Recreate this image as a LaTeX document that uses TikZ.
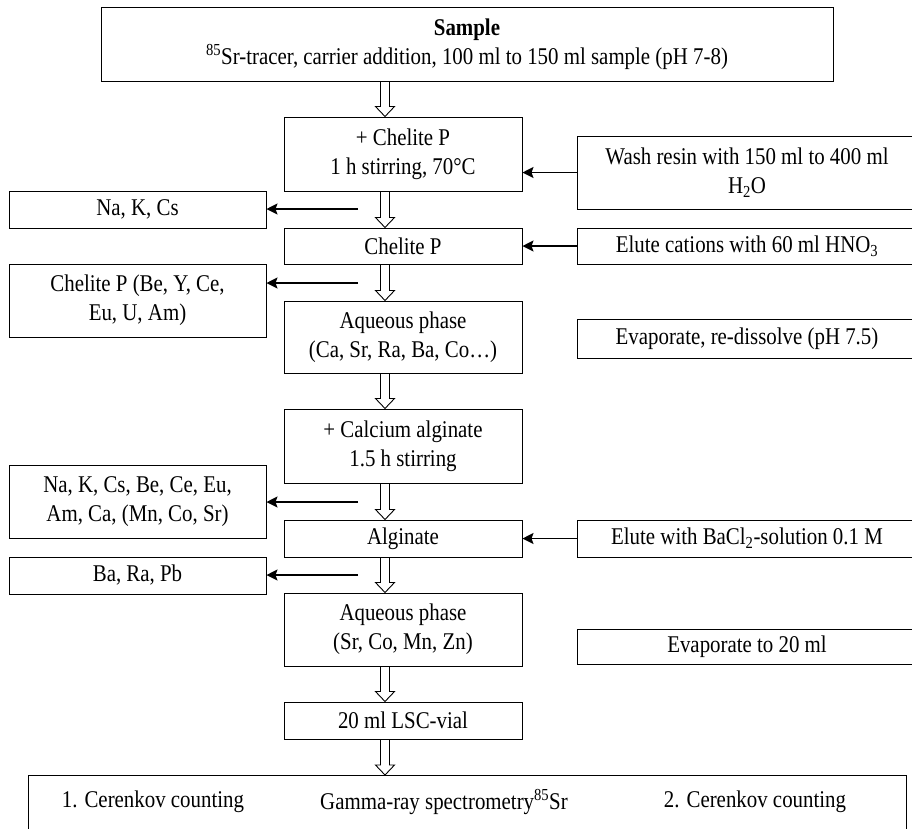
\documentclass[tikz,border=0pt]{standalone}
\usepackage{fontspec}
\setmainfont{Liberation Serif}[FakeStretch=0.87]
\usetikzlibrary{arrows.meta,calc}
\newcommand{\hollowarr}[2]{%
  \path (#1.south -| axis) coordinate (ha) (#2.north -| axis) coordinate (hb);
  \draw[harrow] ($(ha)+(-4.5,0)$) -- ($(hb)+(-4.5,-10)$) -- ($(hb)+(-9.5,-10)$) -- (hb)
     -- ($(hb)+(9.5,-10)$) -- ($(hb)+(4.5,-10)$) -- ($(ha)+(4.5,0)$);}
\begin{document}
\begin{tikzpicture}[x=1pt,y=-1pt,
  box/.style={draw, line width=1pt, inner sep=0pt, align=center, font=\fontsize{24}{29}\selectfont},
  lbl/.style={inner sep=0pt, font=\fontsize{24}{29}\selectfont},
  harrow/.style={draw, line width=0.9pt, line join=miter},
  karrow/.style={line width=1.2pt, -{Stealth[length=11pt,width=11pt,inset=2pt]}}]
\useasboundingbox (0,0) rectangle (912,828);
\fill[white] (0,0) rectangle (912,828);
\coordinate (axis) at (385,0);

% main column
\node[box, minimum width=732, minimum height=74] (sample) at (467,44)
  {\textbf{Sample}\\\textsuperscript{85}Sr-tracer, carrier addition, 100 ml to 150 ml sample (pH 7-8)};
\node[box, minimum width=238, minimum height=74] (b1) at (403,154) {+ Chelite P\\1 h stirring, 70°C};
\node[box, minimum width=238, minimum height=36] (b2) at (403,246) {Chelite P};
\node[box, minimum width=238, minimum height=72] (b3) at (403,337) {Aqueous phase\\(Ca, Sr, Ra, Ba, Co…)};
\node[box, minimum width=238, minimum height=74] (b4) at (403,446) {+ Calcium alginate\\1.5 h stirring};
\node[box, minimum width=238, minimum height=37] (b5) at (403,538.5) {Alginate};
\node[box, minimum width=238, minimum height=73] (b6) at (403,629.5) {Aqueous phase\\(Sr, Co, Mn, Zn)};
\node[box, minimum width=238, minimum height=37] (lsc) at (403,720.5) {20 ml LSC-vial};
\node[box, minimum width=878, minimum height=80, anchor=north] (bottom) at (467,775) {};
\node[lbl] (t1) at (153,802) {1. Cerenkov counting};
\node[lbl] (t2) at (444,802) {Gamma-ray spectrometry\textsuperscript{85}Sr};
\node[lbl] (t3) at (755,802) {2. Cerenkov counting};

% right column
\node[box, minimum width=340, minimum height=73] (r1) at (747,172.5) {Wash resin with 150 ml to 400 ml\\H\textsubscript{2}O};
\node[box, minimum width=340, minimum height=36] (r2) at (747,246) {Elute cations with 60 ml HNO\textsubscript{3}};
\node[box, minimum width=340, minimum height=39] (e1) at (747,338.5) {Evaporate, re-dissolve (pH 7.5)};
\node[box, minimum width=340, minimum height=37] (r5) at (747,538.5) {Elute with BaCl\textsubscript{2}-solution 0.1 M};
\node[box, minimum width=340, minimum height=35] (e2) at (747,646.5) {Evaporate to 20 ml};

% left column
\node[box, minimum width=257, minimum height=37] (l1) at (137.5,209.5) {Na, K, Cs};
\node[box, minimum width=257, minimum height=73] (l2) at (137.5,300.5) {Chelite P (Be, Y, Ce,\\Eu, U, Am)};
\node[box, minimum width=257, minimum height=73] (l3) at (137.5,501.5) {Na, K, Cs, Be, Ce, Eu,\\Am, Ca, (Mn, Co, Sr)};
\node[box, minimum width=257, minimum height=37] (l4) at (137.5,575.5) {Ba, Ra, Pb};

% hollow arrows
\hollowarr{sample}{b1}
\hollowarr{b1}{b2}
\hollowarr{b2}{b3}
\hollowarr{b3}{b4}
\hollowarr{b4}{b5}
\hollowarr{b5}{b6}
\hollowarr{b6}{lsc}
\hollowarr{lsc}{bottom}

% black arrows from the right
\draw[karrow] (r1.west) -- (r1.west -| b1.east);
\draw[karrow] (r2.west) -- (r2.west -| b2.east);
\draw[karrow] (r5.west) -- (r5.west -| b5.east);

% black arrows to the left
\coordinate (c1) at (358,209);
\coordinate (c2) at (358,283);
\coordinate (c3) at (358,502);
\coordinate (c4) at (358,575);
\draw[karrow] (c1) -- (c1 -| l1.east);
\draw[karrow] (c2) -- (c2 -| l2.east);
\draw[karrow] (c3) -- (c3 -| l3.east);
\draw[karrow] (c4) -- (c4 -| l4.east);
\end{tikzpicture}
\end{document}
